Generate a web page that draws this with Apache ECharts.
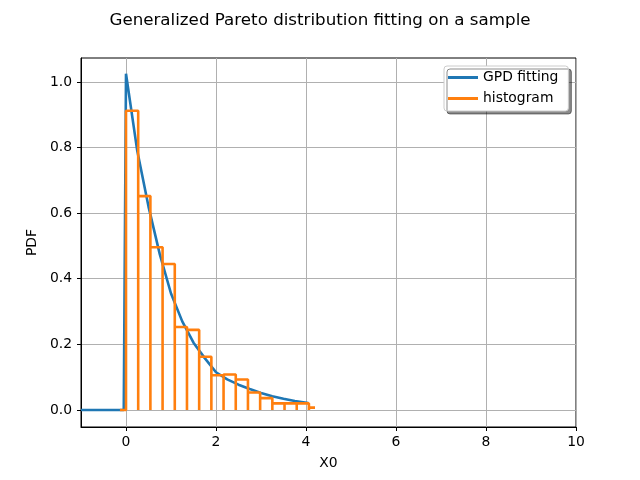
<!DOCTYPE html>
<html>
<head>
<meta charset="utf-8">
<script src="https://cdn.jsdelivr.net/npm/echarts@6/dist/echarts.min.js"></script>
<style>html,body{margin:0;padding:0;background:#fff;}#c{width:640px;height:480px;}</style>
</head>
<body>
<div id="c"></div>
<script>
// Fitted GPD PDF
var pdfX = [-1, -0.05, 0, 0.25, 0.5, 0.75, 1.0, 1.25, 1.5, 1.75, 2.0, 2.25, 2.5, 2.75, 3.0, 3.25, 3.5, 3.75, 4.05];
var pdfY = [0, 0, 1.025, 0.79, 0.62, 0.475, 0.355, 0.27, 0.205, 0.158, 0.115, 0.093, 0.077, 0.064, 0.052, 0.042, 0.034, 0.027, 0.021];
// Histogram bin edges and heights
var histEdges = [-0.135, 0, 0.271, 0.542, 0.813, 1.084, 1.355, 1.626, 1.897, 2.168, 2.439, 2.71, 2.981, 3.252, 3.523, 3.794, 4.065, 4.2];
var histHeights = [0, 0.912, 0.652, 0.496, 0.445, 0.253, 0.244, 0.162, 0.106, 0.108, 0.093, 0.053, 0.036, 0.020, 0.020, 0.020, 0.007];
var xTicks = [0, 2, 4, 6, 8, 10];
var yTicks = [0, 0.2, 0.4, 0.6, 0.8, 1.0];

var curve = pdfX.map(function (x, i) { return [x, pdfY[i]]; });
var hist = [];
for (var i = 0; i < histHeights.length; i++) {
  hist.push([histEdges[i], 0]);
  hist.push([histEdges[i], histHeights[i]]);
  hist.push([histEdges[i + 1], histHeights[i]]);
}

var font = 'DejaVu Sans';
var chart = echarts.init(document.getElementById('c'), null, {renderer: 'canvas'});
chart.setOption({
  animation: false,
  backgroundColor: '#fff',
  title: {
    text: 'Generalized Pareto distribution fitting on a sample',
    left: 'center', top: 7,
    textStyle: {fontFamily: font, fontSize: 16.7, fontWeight: 'normal', color: '#000'}
  },
  legend: {
    orient: 'vertical', left: 444, top: 66,
    padding: [3, 10, 4, 4], itemGap: 4,
    itemWidth: 30, itemHeight: 3, icon: 'rect',
    backgroundColor: '#fff', borderColor: '#cccccc', borderWidth: 1, borderRadius: 3,
    shadowColor: 'rgba(0,0,0,0.45)', shadowBlur: 0, shadowOffsetX: 3, shadowOffsetY: 3,
    textStyle: {fontFamily: font, fontSize: 13.9, color: '#000', lineHeight: 17},
    data: ['GPD fitting', 'histogram']
  },
  grid: {left: 81, right: 64, top: 58, bottom: 53, show: true, borderColor: '#000', borderWidth: 1, backgroundColor: 'transparent'},
  xAxis: {
    type: 'value', min: -1, max: 10,
    name: 'X0', nameLocation: 'middle', nameGap: 29,
    nameTextStyle: {fontFamily: font, fontSize: 13.9, color: '#000'},
    axisLine: {show: true, onZero: false, lineStyle: {color: '#000'}},
    axisTick: {show: true, length: 4, customValues: xTicks, lineStyle: {color: '#000'}},
    axisLabel: {customValues: xTicks, fontFamily: font, fontSize: 13.9, color: '#000', margin: 8},
    splitLine: {show: true, lineStyle: {color: '#b0b0b0', width: 1}}
  },
  yAxis: {
    type: 'value', min: -0.052, max: 1.073,
    name: 'PDF', nameLocation: 'middle', nameGap: 36, nameRotate: 90,
    nameTextStyle: {fontFamily: font, fontSize: 13.9, color: '#000'},
    axisLine: {show: true, onZero: false, lineStyle: {color: '#000'}},
    axisTick: {show: true, length: 4, customValues: yTicks, lineStyle: {color: '#000'}},
    axisLabel: {customValues: yTicks, fontFamily: font, fontSize: 13.9, color: '#000', margin: 9,
      formatter: function (v) { return v.toFixed(1); }},
    splitLine: {show: true, lineStyle: {color: '#b0b0b0', width: 1}}
  },
  series: [
    {name: 'GPD fitting', type: 'line', data: curve, showSymbol: false, symbol: 'none',
      lineStyle: {color: '#1f77b4', width: 2.6}, itemStyle: {color: '#1f77b4'}, z: 2},
    {name: 'histogram', type: 'line', data: hist, showSymbol: false, symbol: 'none',
      lineStyle: {color: '#ff7f0e', width: 2.6}, itemStyle: {color: '#ff7f0e'}, z: 3}
  ]
});
</script>
</body>
</html>
